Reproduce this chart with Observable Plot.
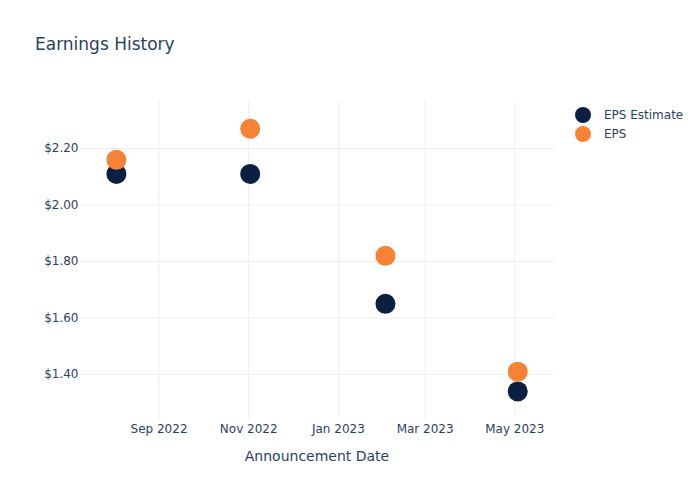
<!DOCTYPE html>
<html>
<head>
<meta charset="utf-8">
<script src="https://cdn.jsdelivr.net/npm/d3@7"></script>
<script src="https://cdn.jsdelivr.net/npm/@observablehq/plot@0.6"></script>
<style>
  body { margin: 0; background: #fff; font-family: "DejaVu Sans", sans-serif; color: #2a3f5f; }
  #wrap { position: relative; width: 700px; height: 500px; overflow: hidden; }
  #chart { position: absolute; left: 0; top: 0; }
  #title { position: absolute; left: 35px; top: 34px; font-size: 17px; line-height: 20px; white-space: nowrap; }
  #xlabel { position: absolute; left: 80px; width: 474px; top: 447px; font-size: 14px; line-height: 18px; text-align: center; }
  #legend { position: absolute; left: 575px; top: 105px; font-size: 12px; }
  .lrow { display: flex; align-items: center; height: 19px; white-space: nowrap; }
  .lsw { width: 16px; height: 16px; border-radius: 50%; margin-right: 13px; }
</style>
</head>
<body>
<div id="wrap">
  <div id="chart"></div>
  <div id="title">Earnings History</div>
  <div id="legend"></div>
  <div id="xlabel">Announcement Date</div>
</div>
<script>
const dates = ["2022-08-03", "2022-11-02", "2023-02-02", "2023-05-03"];
const epsEstimate = [2.11, 2.11, 1.65, 1.34];
const eps = [2.16, 2.27, 1.82, 1.41];
const seriesNames = ["EPS Estimate", "EPS"];
const seriesColors = ["#0b1f41", "#f58235"];
const xTicks = ["2022-09-01", "2022-11-01", "2023-01-01", "2023-03-01", "2023-05-01"];
const yTicks = [1.4, 1.6, 1.8, 2.0, 2.2];

const rows = dates.flatMap((d, i) => [
  { date: new Date(d), value: epsEstimate[i], series: seriesNames[0] },
  { date: new Date(d), value: eps[i], series: seriesNames[1] }
]);
const xTickDates = xTicks.map(d => new Date(d));

const chart = Plot.plot({
  width: 700,
  height: 500,
  marginTop: 100,
  marginBottom: 80,
  marginLeft: 80,
  marginRight: 146,
  style: { fontFamily: "DejaVu Sans, sans-serif", fontSize: "12px", color: "#2a3f5f", background: "transparent", overflow: "visible" },
  x: { type: "utc", domain: [new Date("2022-07-09T14:00Z"), new Date("2023-05-28T00:00Z")] },
  y: { domain: [1.237, 2.37] },
  color: { domain: seriesNames, range: seriesColors },
  marks: [
    Plot.gridX(xTickDates, { stroke: "#ebf0f8", strokeOpacity: 1, strokeWidth: 1 }),
    Plot.gridY(yTicks, { stroke: "#ebf0f8", strokeOpacity: 1, strokeWidth: 1 }),
    Plot.axisX(xTickDates, { tickFormat: d3.utcFormat("%b %Y"), tickSize: 0, tickPadding: 4, label: null, fill: "#2a3f5f" }),
    Plot.axisY(yTicks, { tickFormat: d => "$" + d.toFixed(2), tickSize: 0, tickPadding: 2, label: null, fill: "#2a3f5f" }),
    Plot.dot(rows, { x: "date", y: "value", fill: "series", r: 10 })
  ]
});
document.getElementById("chart").appendChild(chart);

const legend = document.getElementById("legend");
seriesNames.forEach((name, i) => {
  const row = document.createElement("div");
  row.className = "lrow";
  const sw = document.createElement("span");
  sw.className = "lsw";
  sw.style.background = seriesColors[i];
  const t = document.createElement("span");
  t.textContent = name;
  row.appendChild(sw);
  row.appendChild(t);
  legend.appendChild(row);
});
</script>
</body>
</html>
